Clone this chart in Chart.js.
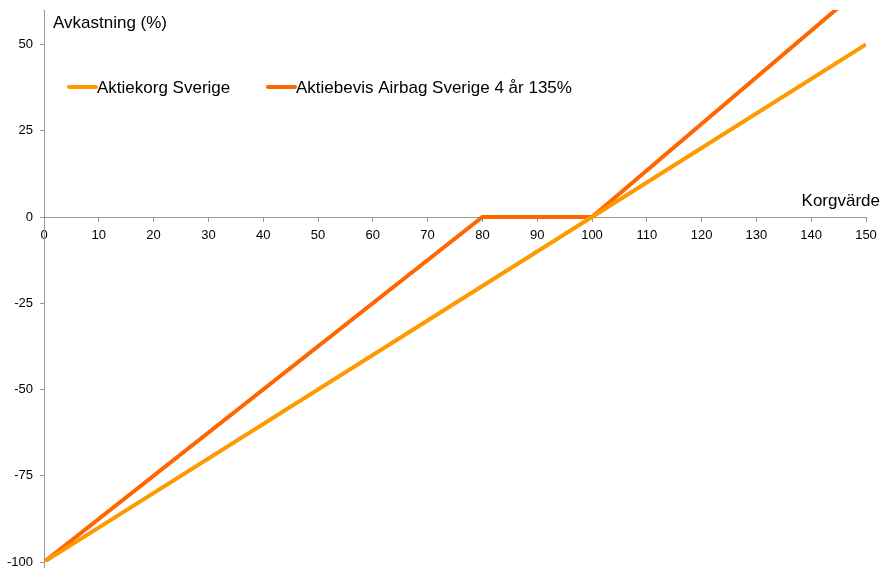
<!DOCTYPE html>
<html>
<head>
<meta charset="utf-8">
<script src="https://cdn.jsdelivr.net/npm/chart.js@4/dist/chart.umd.min.js"></script>
<style>
  html, body { margin: 0; padding: 0; background: #fff; }
  #wrap { width: 881px; height: 568px; position: relative; }
</style>
</head>
<body>
<div id="wrap"><canvas id="chart"></canvas></div>
<script>
// Chart data
const korgValues = [0, 80, 100, 150];
const aktiekorg = [-100, -20, 0, 50];
const airbag = [-100, 0, 0, 67.5];
const yTicks = [-100, -75, -50, -25, 0, 25, 50];
const seriesNames = ['Aktiekorg Sverige', 'Aktiebevis Airbag Sverige 4 år 135%'];
const seriesColors = ['#FF9900', '#FF6600'];

const FONT = '"Liberation Sans", Arial, sans-serif';

// Draws axis titles and the floating legend inside the plot
const overlayPlugin = {
    id: 'overlay',
    beforeDatasetsDraw(chart) {
        // y axis line runs on past -100 to the bottom edge
        const ctx = chart.ctx;
        const x = Math.round(chart.scales.y.right - 0.5) + 0.5;
        ctx.save();
        ctx.strokeStyle = '#999';
        ctx.lineWidth = 1;
        ctx.beginPath();
        ctx.moveTo(x, chart.chartArea.bottom);
        ctx.lineTo(x, chart.height);
        ctx.stroke();
        ctx.restore();
    },
    afterDraw(chart) {
        const ctx = chart.ctx;
        ctx.save();
        ctx.fillStyle = '#000';
        ctx.font = `17px ${FONT}`;
        ctx.textBaseline = 'middle';
        ctx.textAlign = 'left';
        ctx.fillText('Avkastning (%)', 53, 23);
        ctx.textAlign = 'right';
        ctx.fillText('Korgvärde', 880, 201);

        // Legend
        const items = [{ x: 67 }, { x: 266 }];
        ctx.textAlign = 'left';
        items.forEach((item, i) => {
            ctx.strokeStyle = seriesColors[i];
            ctx.lineWidth = 4;
            ctx.lineCap = 'round';
            ctx.beginPath();
            ctx.moveTo(item.x + 2, 87);
            ctx.lineTo(item.x + 29, 87);
            ctx.stroke();
            ctx.fillStyle = '#000';
            ctx.fillText(seriesNames[i], item.x + 30, 88);
        });
        ctx.restore();
    }
};

const ctx = document.getElementById('chart').getContext('2d');
new Chart(ctx, {
    type: 'line',
    data: {
        datasets: [
            {
                label: seriesNames[0],
                data: korgValues.map((x, i) => ({ x: x, y: aktiekorg[i] })),
                borderColor: seriesColors[0],
                borderWidth: 4,
                pointRadius: 0,
                tension: 0
            },
            {
                label: seriesNames[1],
                data: korgValues.map((x, i) => ({ x: x, y: airbag[i] })),
                borderColor: seriesColors[1],
                borderWidth: 4,
                pointRadius: 0,
                tension: 0
            }
        ]
    },
    options: {
        responsive: true,
        maintainAspectRatio: false,
        animation: false,
        layout: { padding: { top: 10, right: 15, bottom: 6, left: 0 } },
        plugins: {
            legend: { display: false },
            tooltip: { enabled: false }
        },
        scales: {
            x: {
                type: 'linear',
                position: { y: 0 },
                min: 0,
                max: 150,
                afterFit(scale) {
                    scale.height = 0;
                    scale.paddingLeft = 0;
                    scale.paddingRight = 0;
                },
                ticks: {
                    stepSize: 10,
                    color: '#000',
                    font: { family: FONT, size: 13 },
                    padding: 7,
                    maxRotation: 0
                },
                grid: {
                    drawOnChartArea: false,
                    drawTicks: true,
                    tickLength: 4,
                    color: '#999'
                },
                border: { color: '#999', width: 1 }
            },
            y: {
                type: 'linear',
                min: -100,
                max: 60,
                afterBuildTicks(scale) {
                    scale.ticks = yTicks.map(v => ({ value: v }));
                },
                afterFit(scale) {
                    scale.width = 44;
                    scale.paddingTop = 0;
                    scale.paddingBottom = 0;
                },
                ticks: {
                    color: '#000',
                    font: { family: FONT, size: 13 },
                    padding: 7
                },
                grid: {
                    drawOnChartArea: false,
                    drawTicks: true,
                    tickLength: 4,
                    color: '#999'
                },
                border: { color: '#999', width: 1 }
            }
        }
    },
    plugins: [overlayPlugin]
});
</script>
</body>
</html>
